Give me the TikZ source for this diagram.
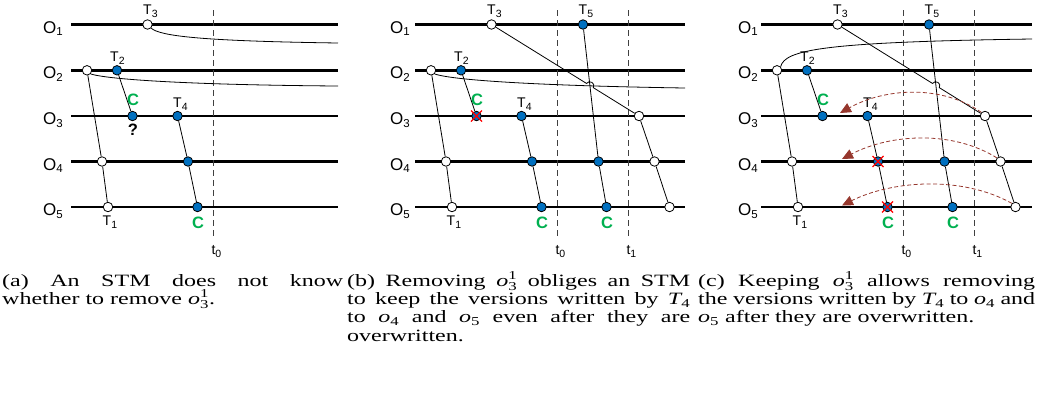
\documentclass[tikz,border=0pt]{standalone}
\usepackage{fontspec}
\usepackage{amsmath}
\usepackage{graphicx}
\setmainfont{Liberation Serif}
\newfontfamily\arial{Liberation Sans}
\usetikzlibrary{arrows.meta,calc}
\definecolor{vblue}{RGB}{0,112,192}
\definecolor{cgreen}{RGB}{0,176,80}
\definecolor{abrown}{RGB}{150,55,45}
\newcommand\subl[1]{\raisebox{-3pt}{\fontsize{10.5}{10.5}\selectfont #1}}
\newcommand\Olab[1]{O\raisebox{-2.5pt}{\fontsize{11.5}{11.5}\selectfont #1}}
\newcommand\Tl[1]{T\rlap{\subl{#1}}}
\newcommand\ov[2]{$\text{\itshape o}_{\text{#1}}^{\text{#2}}$}
\newcommand\ovs[1]{$\text{\itshape o}_{\text{#1}}$}
\newcommand\Tv[1]{$\text{\itshape T}_{\text{#1}}$}
\newcommand\capt[2]{\scalebox{1}[0.72]{\parbox[t]{#1}{\fontsize{24}{25.6}\selectfont\lineskiplimit=-100pt\lineskip=0pt #2}}}
\tikzset{
 oline/.style={line width=2.6pt},
 wire/.style={line width=0.8pt},
 wc/.style={circle,draw,fill=white,inner sep=0pt,minimum size=9.5pt,line width=0.8pt},
 bc/.style={wc,fill=vblue},
 tdash/.style={line width=0.8pt,dash pattern=on 6pt off 4pt,black!75},
 olab/.style={font=\arial\fontsize{17}{17}\selectfont,inner sep=0pt,anchor=base east},
 tlab/.style={font=\arial\fontsize{14}{14}\selectfont,inner sep=0pt,anchor=base},
 clab/.style={font=\arial\bfseries\fontsize{16.5}{16.5}\selectfont,text=cgreen,inner sep=0pt},
 xmark/.style={red,line width=1.1pt},
 garc/.style={abrown,line width=0.8pt,dash pattern=on 4pt off 2.5pt,-{Triangle[length=11pt,width=10pt]}},
 capbox/.style={inner sep=0pt,anchor=base west},
}
% #1 prefix, #2 label gap, #3 line end
\newcommand\basepanel[3]{%
 \foreach \k/\yy in {1/24.5,2/70.3,3/116,4/161.5,5/207}{
   \draw[oline] (0,\yy) -- (#3,\yy);
   \node[olab] (#1L\k) at (-#2,\yy+8.5) {\Olab{\k}};
 }
 \draw[tdash] (142.5,10) -- (142.5,238);
 \node[tlab] (#1t0) at (142.5,254) {t\rlap{\subl{0}}};
 \node[wc] (#1T3) at (76.5,24.5) {};
 \node[tlab] (#1lT3) at (76.5,14.5) {\Tl{3}};
 \node[wc] (#1O2w) at (16,70.3) {};
 \node[bc] (#1T2) at (46,70.3) {};
 \node[tlab] (#1lT2) at (43.5,61.5) {\Tl{2}};
 \node[wc] (#1O4w) at (31,161.5) {};
 \node[wc] (#1O5w) at (37,207) {};
 \node[tlab] (#1lT1) at (36,225) {\Tl{1}};
 \draw[wire] (#1O2w) -- (#1O4w) -- (#1O5w);
 \node[bc] (#1O3b) at (61.5,116) {};
 \draw[wire] (#1T2) -- (#1O3b);
 \node[clab] (#1C1) at (62,100) {C};
 \node[bc] (#1T4) at (106.5,116) {};
 \node[tlab] (#1lT4) at (106.5,107) {\Tl{4}};
 \node[bc] (#1O4b) at (117,161.5) {};
 \node[bc] (#1O5b) at (126.5,207) {};
 \node[clab] (#1C2) at (127,222.5) {C};
 \draw[wire] (#1T4) -- (#1O4b) -- (#1O5b);
}
% later transactions T5 and the T3 chain
\newcommand\latepanel[1]{%
 \draw[tdash] (213.5,10) -- (213.5,238);
 \node[tlab] (#1t1) at (213.5,254) {t\rlap{\subl{1}}};
 \node[bc] (#1T5) at (168,24.5) {};
 \node[tlab] (#1lT5) at (168,14.5) {\Tl{5}};
 \node[bc] (#1O4b2) at (183.5,161.5) {};
 \node[bc] (#1O5b2) at (191.5,207) {};
 \node[clab] (#1C3) at (192,222.5) {C};
 \draw[wire] (#1T5) -- (#1O4b2) -- (#1O5b2);
 \node[wc] (#1O3w) at (224,116) {};
 \node[wc] (#1O4w2) at (239.5,161.5) {};
 \node[wc] (#1O5w2) at (254.5,207) {};
 \draw[wire] (#1O3w) -- (#1O4w2) -- (#1O5w2);
 \coordinate (#1X) at (intersection of #1T3--#1O3w and #1T5--#1O4b2);
 \coordinate (#1Ha) at ($(#1X)!4pt!(#1T3)$);
 \coordinate (#1Hb) at ($(#1X)!4pt!(#1O3w)$);
 \draw[wire] (#1T3) -- (#1Ha) .. controls ($(#1Ha)!5pt!90:(#1X)$) and ($(#1Hb)!5pt!-90:(#1X)$) .. (#1Hb) -- (#1O3w);
}
\newcommand\xcross[1]{\draw[xmark] (#1.center) +(-5.5,-5.5) -- +(5.5,5.5) +(-5.5,5.5) -- +(5.5,-5.5);}
\begin{document}
\begin{tikzpicture}[x=1pt,y=-1pt]
\useasboundingbox (0,0) rectangle (1042,392);
% ---------- panel (a)
\begin{scope}[xshift=71pt]
 \basepanel{a}{8}{267}
 \node[font=\arial\bfseries\fontsize{16.5}{16.5}\selectfont,inner sep=0pt] (aQ) at (62,130) {?};
 \coordinate (aE1) at (267,43);
 \coordinate (aE2) at (267,86);
 \draw[wire] (aT3.south east) .. controls (89,36) and (129,41) .. (aE1);
 \draw[wire] (aO2w.south east) .. controls (39,80) and (129,85) .. (aE2);
\end{scope}
% ---------- panel (b)
\begin{scope}[xshift=415pt]
 \basepanel{b}{5}{270}
 \coordinate (bE2) at (270,88);
 \draw[wire] (bO2w.south east) .. controls (40,81) and (140,86) .. (bE2);
 \latepanel{b}
 \xcross{bO3b}
\end{scope}
% ---------- panel (c)
\begin{scope}[xshift=761pt]
 \basepanel{c}{3}{271}
 \coordinate (cE2) at (271,39);
 \draw[wire] (cO2w.north east) .. controls (24,50) and (60,42) .. (cE2);
 \latepanel{c}
 \xcross{cO4b}
 \xcross{cO5b}
 \coordinate (cA3) at (79,113);
 \coordinate (cA4) at (81,159);
 \coordinate (cA5) at (81,205.5);
 \draw[garc] (cO3w.north west) .. controls +(-40,-28) and +(45,-25) .. (cA3);
 \draw[garc] (cO4w2.north west) .. controls +(-45,-28) and +(48,-25) .. (cA4);
 \draw[garc] (cO5w2.north west) .. controls +(-50,-28) and +(50,-25) .. (cA5);
\end{scope}
% ---------- captions
\node[capbox] (capa) at (2,286) {\capt{341pt}{%
 \makebox[341pt][s]{(a) An STM does not know}\\
 \makebox[341pt][l]{whether to remove \ov{3}{1}.}}};
\node[capbox] (capb) at (347,286) {\capt{343pt}{%
 \makebox[343pt][s]{(b) Removing \ov{3}{1} obliges an STM}\\
 \makebox[343pt][s]{to keep the versions written by \Tv{4}}\\
 \makebox[343pt][s]{to \ovs{4} and \ovs{5} even after they are}\\
 \makebox[343pt][l]{overwritten.}}};
\node[capbox] (capc) at (698,286) {\capt{337pt}{%
 \makebox[337pt][s]{(c) Keeping \ov{3}{1} allows removing}\\
 \makebox[337pt][s]{the versions written by \Tv{4} to \ovs{4} and}\\
 \makebox[337pt][l]{\ovs{5} after they are overwritten.}}};
\end{tikzpicture}
\end{document}
